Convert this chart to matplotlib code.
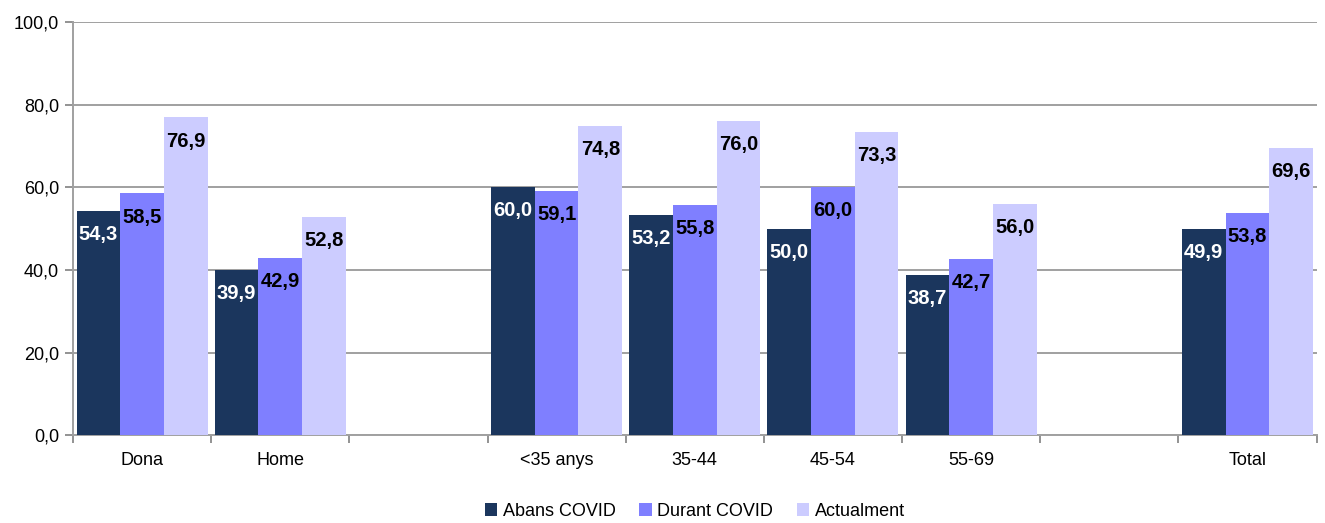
import numpy as np
import matplotlib.pyplot as plt
from matplotlib import font_manager

names = {f.name for f in font_manager.fontManager.ttflist}
fam = ['Liberation Sans Narrow', 'Liberation Sans', 'DejaVu Sans']
plt.rcParams['font.family'] = [f for f in fam if f in names] or ['DejaVu Sans']

categories = ['Dona', 'Home', '', '<35 anys', '35-44', '45-54', '55-69', '', 'Total']
abans = [54.3, 39.9, np.nan, 60.0, 53.2, 50.0, 38.7, np.nan, 49.9]
durant = [58.5, 42.9, np.nan, 59.1, 55.8, 60.0, 42.7, np.nan, 53.8]
actual = [76.9, 52.8, np.nan, 74.8, 76.0, 73.3, 56.0, np.nan, 69.6]
series_names = ['Abans COVID', 'Durant COVID', 'Actualment']

colors = ['#1b365d', '#7f7fff', '#ccccff']
label_colors = ['white', 'black', 'black']

fig = plt.figure(figsize=(13.25, 5.23), dpi=100)
ax = fig.add_axes([0.0551, 0.168, 0.9385, 0.79])

x = np.arange(len(categories))
w = 0.316
for k, (vals, name) in enumerate(zip([abans, durant, actual], series_names)):
    pos = x + (k - 1) * w
    ax.bar(pos, vals, w, color=colors[k], label=name, zorder=3)
    for p, v in zip(pos, vals):
        if np.isnan(v):
            continue
        ax.annotate(f'{v:.1f}'.replace('.', ','), (p, v), xytext=(0, -17),
                    textcoords='offset points', ha='center', va='center',
                    fontsize=14.5, fontweight='bold', color=label_colors[k], zorder=4)

ax.set_xlim(-0.5, len(categories) - 0.5)
ax.set_ylim(0, 100)
ax.set_yticks(np.arange(0, 101, 20))
ax.set_yticklabels([f'{v:.1f}'.replace('.', ',') for v in np.arange(0, 101, 20)])
ax.set_xticks(x, categories)
ax.set_xticks(np.arange(-0.5, len(categories), 1), minor=True)
ax.tick_params(axis='x', which='major', length=0, pad=12, labelsize=13)
ax.tick_params(axis='x', which='minor', length=6, color='#808080', width=1.2)
ax.tick_params(axis='y', length=6, color='#808080', width=1.2, labelsize=13, pad=4)

ax.grid(axis='y', color='#a0a0a0', linewidth=1.4, zorder=0)
for s in ['top', 'right']:
    ax.spines[s].set_visible(False)
ax.spines['left'].set_color('#a0a0a0')
ax.spines['left'].set_linewidth(1.4)
ax.spines['bottom'].set_color('#a0a0a0')
ax.spines['bottom'].set_linewidth(1.4)

ax.legend(loc='upper center', bbox_to_anchor=(0.5, -0.125), ncol=3, frameon=False,
          fontsize=13, handlelength=0.7, handleheight=0.7, handletextpad=0.3,
          columnspacing=1.3)

fig.savefig('out.png', dpi=100)
